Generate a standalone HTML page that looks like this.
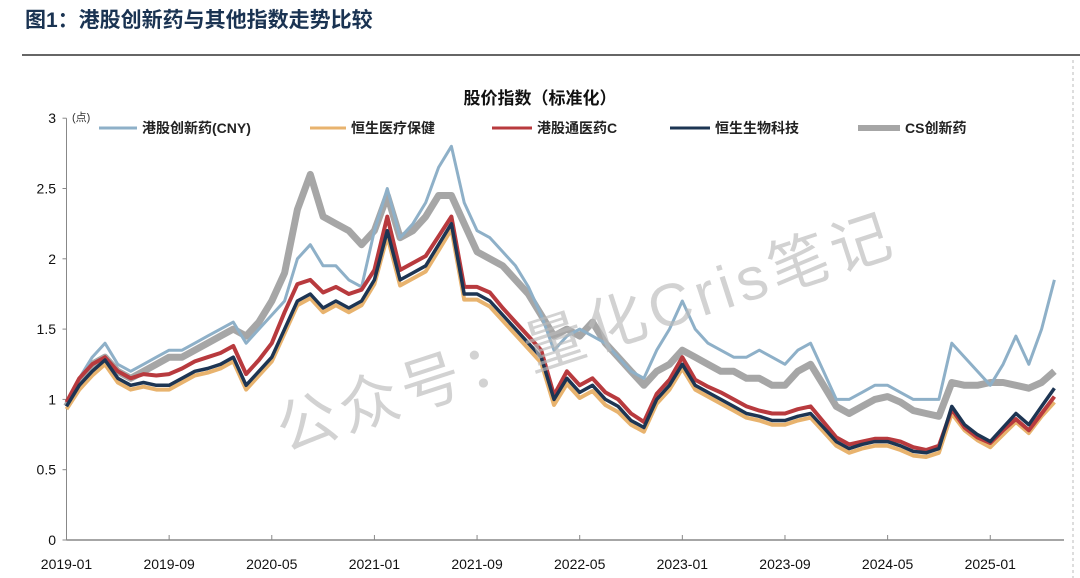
<!DOCTYPE html>
<html><head><meta charset="utf-8"><style>
body{margin:0;background:#fff;width:1080px;height:578px;overflow:hidden;font-family:"Liberation Sans","Noto Sans CJK SC",sans-serif}
</style></head><body>
<svg id="c" width="1080" height="578" xmlns="http://www.w3.org/2000/svg" style="position:absolute;left:0;top:0">
<text x="25" y="27" font-size="21" font-weight="bold" fill="#1a3352" font-family="Liberation Sans, Noto Sans CJK SC, sans-serif">图1：港股创新药与其他指数走势比较</text>
<line x1="22" y1="55" x2="1080" y2="55" stroke="#666" stroke-width="2"/>
<line x1="1073" y1="60" x2="1073" y2="578" stroke="#bbb" stroke-dasharray="3,3"/>
<text x="540" y="104" font-size="17" font-weight="bold" text-anchor="middle" fill="#111">股价指数（标准化）</text>
<text x="72" y="121" font-size="11" fill="#333">(点)</text>
<g id="axes"></g>
<g id="series"></g>
<g id="legend"></g>
<text x="285" y="452" font-size="60" fill="#bbb" opacity="0.65" transform="rotate(-18 285 452)" letter-spacing="5">公众号：量化Cris笔记</text>
</svg>
<script>
const yTicks=[0,0.5,1,1.5,2,2.5,3];
const yTickLabels=["0","0.5","1","1.5","2","2.5","3"];
const xTickLabels=["2019-01","2019-09","2020-05","2021-01","2021-09","2022-05","2023-01","2023-09","2024-05","2025-01"];
const xTickMonths=[0,8,16,24,32,40,48,56,64,72];
const seriesNames=["CS创新药","港股创新药(CNY)","恒生医疗保健","港股通医药C","恒生生物科技"];
const csInnov=[0.95,1.1,1.25,1.3,1.2,1.15,1.2,1.25,1.3,1.3,1.35,1.4,
1.45,1.5,1.45,1.55,1.7,1.9,2.35,2.6,2.3,2.25,2.2,2.1,
2.2,2.45,2.15,2.2,2.3,2.45,2.45,2.25,2.05,2.0,1.95,1.85,
1.75,1.6,1.45,1.5,1.45,1.55,1.4,1.3,1.2,1.1,1.2,1.25,
1.35,1.3,1.25,1.2,1.2,1.15,1.15,1.1,1.1,1.2,1.25,1.1,
0.95,0.9,0.95,1.0,1.02,0.98,0.92,0.9,0.88,1.12,1.1,1.1,
1.12,1.12,1.1,1.08,1.12,1.2];
const hkInnov=[0.95,1.15,1.3,1.4,1.25,1.2,1.25,1.3,1.35,1.35,1.4,1.45,
1.5,1.55,1.4,1.5,1.6,1.7,2.0,2.1,1.95,1.95,1.85,1.8,
2.2,2.5,2.15,2.25,2.4,2.65,2.8,2.4,2.2,2.15,2.05,1.95,
1.8,1.6,1.35,1.45,1.5,1.45,1.4,1.3,1.2,1.15,1.35,1.5,
1.7,1.5,1.4,1.35,1.3,1.3,1.35,1.3,1.25,1.35,1.4,1.2,
1.0,1.0,1.05,1.1,1.1,1.05,1.0,1.0,1.0,1.4,1.3,1.2,
1.1,1.25,1.45,1.25,1.5,1.85];
const hsHealth=[0.93,1.07,1.17,1.25,1.12,1.07,1.09,1.07,1.07,1.12,1.17,1.19,
1.22,1.27,1.07,1.17,1.27,1.47,1.67,1.72,1.62,1.67,1.62,1.67,
1.82,2.16,1.81,1.86,1.91,2.06,2.21,1.71,1.71,1.66,1.56,1.46,
1.36,1.26,0.96,1.11,1.01,1.06,0.96,0.91,0.82,0.77,0.97,1.07,
1.22,1.07,1.02,0.97,0.92,0.87,0.85,0.82,0.82,0.85,0.87,0.77,
0.67,0.62,0.65,0.67,0.67,0.64,0.6,0.59,0.62,0.9,0.78,0.71,
0.66,0.75,0.84,0.76,0.88,0.98];
const hkConnect=[0.98,1.15,1.25,1.3,1.2,1.15,1.18,1.17,1.18,1.22,1.27,1.3,
1.33,1.38,1.18,1.28,1.4,1.62,1.82,1.85,1.76,1.8,1.75,1.78,
1.92,2.3,1.92,1.97,2.02,2.16,2.3,1.8,1.8,1.76,1.65,1.55,
1.45,1.35,1.03,1.2,1.1,1.15,1.05,1.0,0.9,0.84,1.04,1.14,
1.3,1.14,1.09,1.05,1.0,0.95,0.92,0.9,0.9,0.93,0.95,0.84,
0.73,0.68,0.7,0.72,0.72,0.7,0.66,0.64,0.67,0.93,0.8,0.73,
0.69,0.78,0.86,0.78,0.9,1.02];
const hsBio=[0.95,1.1,1.2,1.28,1.15,1.1,1.12,1.1,1.1,1.15,1.2,1.22,
1.25,1.3,1.1,1.2,1.3,1.5,1.7,1.75,1.65,1.7,1.65,1.7,
1.85,2.2,1.85,1.9,1.95,2.1,2.25,1.75,1.75,1.7,1.6,1.5,
1.4,1.3,1.0,1.15,1.05,1.1,1.0,0.95,0.85,0.8,1.0,1.1,
1.25,1.1,1.05,1.0,0.95,0.9,0.88,0.85,0.85,0.88,0.9,0.8,
0.7,0.65,0.68,0.7,0.7,0.67,0.63,0.62,0.65,0.95,0.82,0.75,
0.7,0.8,0.9,0.82,0.95,1.08];

const NS="http://www.w3.org/2000/svg";
const X0=66.5,MPX=12.83,Y0=540,UPX=140.6;
const xs=m=>X0+m*MPX, ys=v=>Y0-v*UPX;
function mk(t,a,p){const e=document.createElementNS(NS,t);for(const k in a)e.setAttribute(k,a[k]);p.appendChild(e);return e;}
const axes=document.getElementById('axes');
let e=mk('line',{x1:X0,y1:ys(3),x2:X0,y2:Y0,stroke:'#888','stroke-width':1},axes);


e=mk('line',{x1:X0,y1:Y0,x2:1064,y2:Y0,stroke:'#888','stroke-width':1.5},axes);


yTicks.forEach((v,i)=>{
 const t=mk('line',{x1:X0-4,y1:ys(v),x2:X0,y2:ys(v),stroke:'#888'},axes);
 
 
 const l=mk('text',{x:56,y:ys(v)+5,'font-size':14,'text-anchor':'end',fill:'#111'},axes);
 l.textContent=yTickLabels[i];
 
 
});
xTickMonths.forEach((m,i)=>{
 const t=mk('line',{x1:xs(m),y1:Y0-5,x2:xs(m),y2:Y0,stroke:'#888'},axes);
 
 
 const l=mk('text',{x:xs(m),y:569,'font-size':14,'text-anchor':'middle',fill:'#111'},axes);
 l.textContent=xTickLabels[i];
 
 
});
const sg=document.getElementById('series');
function line(arr,col,w,name){
 const d=arr.map((v,i)=>(i?'L':'M')+xs(i).toFixed(1)+','+ys(v).toFixed(1)).join('');
 const p=mk('path',{d:d,fill:'none',stroke:col,'stroke-width':w,'stroke-linejoin':'round'},sg);
 
 
}
line(csInnov,'#a6a6a6',7,'cs-innovative-drug-line');
line(hkInnov,'#8eb0c8',3,'hk-innovative-drug-line');
line(hsHealth,'#e8b36e',4,'hs-healthcare-line');
line(hkConnect,'#b83a3e',4,'hk-connect-pharma-line');
line(hsBio,'#1d3553',3.5,'hs-biotech-line');
const lg=document.getElementById('legend');
const legItems=[[99,137,'#8eb0c8',3,1],[310,346,'#e8b36e',3,2],[492,532,'#b83a3e',3,3],[670,710,'#1d3553',3,4],[858,900,'#a6a6a6',6,0]];
legItems.forEach(it=>{
 const g=mk('g',{},lg);
 
 
 mk('line',{x1:it[0],y1:128,x2:it[1],y2:128,stroke:it[2],'stroke-width':it[3]},g);
 const t=mk('text',{x:it[1]+5,y:133,'font-size':14,'font-weight':'bold',fill:'#222'},g);
 t.textContent=seriesNames[it[4]];
});
</script>
</body></html>
